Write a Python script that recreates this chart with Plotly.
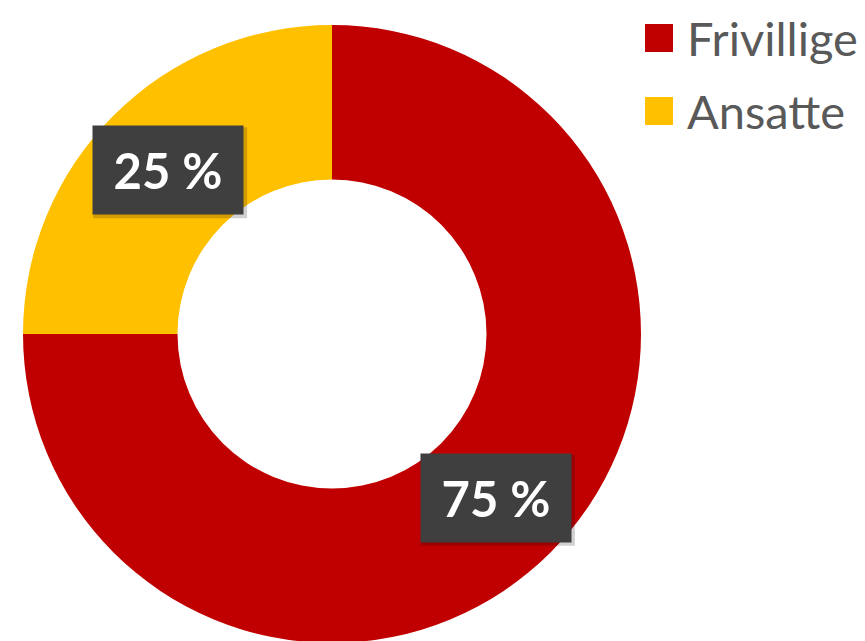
import math
import plotly.graph_objects as go

# Data
categories = ["Frivillige", "Ansatte"]
values = [75, 25]
colors = ["#C00000", "#FFC000"]

W, H = 865, 641
OFF = 8  # page offset of the figure inside the browser window
# donut geometry (pixels, in window coordinates)
CX, CY, R = 332, 334, 309
HOLE = 0.5


def px(x):
    return (x - OFF) / W


def py(y):
    return (H - (y - OFF)) / H


fig = go.Figure()
fig.add_trace(go.Pie(
    labels=categories,
    values=values,
    hole=HOLE,
    sort=False,
    direction="clockwise",
    rotation=0,
    marker=dict(colors=colors, line=dict(width=0)),
    textinfo="none",
    hoverinfo="label+percent",
    showlegend=False,
    domain=dict(x=[px(CX - R), px(CX + R)], y=[py(CY + R), py(CY - R)]),
))

annotations = []
shapes = []

# value labels placed at slice mid-angle, mid-radius
total = sum(values)
cum = 0
rmid = R * (1 + HOLE) / 2
for v in values:
    mid = (cum + v / 2) / total * 2 * math.pi
    cum += v
    lx = CX + rmid * math.sin(mid)
    ly = CY - rmid * math.cos(mid)
    # soft shadow
    shapes.append(dict(type="rect", xref="paper", yref="paper",
                       x0=px(lx - 75), x1=px(lx + 79), y0=py(ly - 43), y1=py(ly + 48),
                       fillcolor="rgba(0,0,0,0.18)", line=dict(width=0), layer="above"))
    annotations.append(dict(
        x=px(lx), y=py(ly), xref="paper", yref="paper",
        text=f"{v} %", showarrow=False,
        font=dict(family="Lato", size=49, color="white", weight="bold"),
        bgcolor="#3F3F3F", borderpad=14, width=122, height=60,
        xanchor="center", yanchor="middle",
    ))

# custom legend
leg_y = [38, 111]
for cat, col, y in zip(categories, colors, leg_y):
    shapes.append(dict(type="rect", xref="paper", yref="paper",
                       x0=px(645), x1=px(673), y0=py(y + 14), y1=py(y - 14),
                       fillcolor=col, line=dict(width=0)))
    annotations.append(dict(
        x=px(685), y=py(y), xref="paper", yref="paper",
        text=cat, showarrow=False, xanchor="left", yanchor="middle",
        font=dict(family="Lato", size=47, color="#595959"),
    ))

fig.update_layout(
    width=W, height=H,
    margin=dict(l=0, r=0, t=0, b=0),
    paper_bgcolor="white",
    plot_bgcolor="white",
    annotations=annotations,
    shapes=shapes,
)

fig.write_html("out.html")
